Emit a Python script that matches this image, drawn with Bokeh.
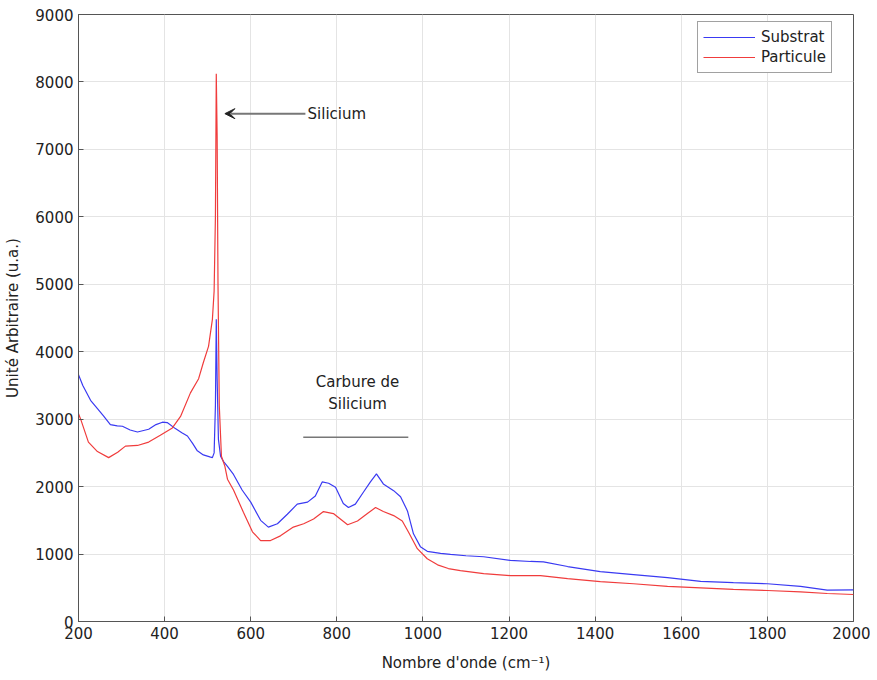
from bokeh.plotting import figure
from bokeh.models import (Range1d, Legend, LegendItem, Arrow, VeeHead, Label, FixedTicker)
from bokeh.embed import file_html
from bokeh.resources import INLINE

# ---- data ----
x_sub = [200, 210, 228, 245, 258, 274, 290, 302, 320, 337, 363, 380, 395, 406, 425, 440,
         453, 465, 476, 490, 505, 511, 515, 518, 520, 522, 525, 530, 537, 546, 560, 580,
         600, 623, 641, 662, 685, 708, 732, 750, 766, 781, 797, 815, 827, 843, 862, 878,
         892, 908, 932, 948, 964, 978, 994, 1010, 1041, 1064, 1100, 1141, 1203, 1250,
         1280, 1336, 1412, 1489, 1568, 1645, 1721, 1800, 1877, 1939, 2000]
y_sub = [3660, 3500, 3280, 3150, 3050, 2920, 2900, 2895, 2840, 2810, 2850, 2920, 2955,
         2950, 2860, 2800, 2750, 2640, 2530, 2470, 2440, 2430, 2500, 3200, 4480, 3600,
         2700, 2450, 2370, 2300, 2180, 1950, 1770, 1500, 1400, 1450, 1590, 1740, 1770,
         1860, 2070, 2050, 1990, 1750, 1690, 1740, 1920, 2070, 2190, 2040, 1940, 1850,
         1640, 1300, 1110, 1040, 1010, 995, 975, 960, 905, 890, 885, 815, 740, 695, 650,
         595, 575, 560, 520, 465, 470]

x_par = [200, 205, 223, 244, 270, 291, 309, 337, 363, 390, 418, 437, 460, 479, 490, 502,
         511, 515, 518, 520, 522, 524, 527, 532, 540, 546, 560, 583, 604, 623, 646, 669,
         699, 723, 746, 769, 792, 825, 848, 871, 890, 908, 932, 952, 966, 987, 1010, 1034,
         1059, 1087, 1141, 1203, 1273, 1336, 1412, 1489, 1568, 1645, 1721, 1800, 1877,
         1939, 2000]
y_par = [3080, 3000, 2660, 2520, 2430, 2510, 2600, 2610, 2660, 2760, 2870, 3040, 3390,
         3600, 3840, 4080, 4480, 4900, 6000, 8120, 7200, 5000, 3200, 2450, 2300, 2110,
         1950, 1620, 1330, 1200, 1200, 1270, 1400, 1450, 1520, 1630, 1600, 1435, 1490,
         1600, 1690, 1630, 1570, 1490, 1330, 1080, 930, 840, 785, 755, 710, 680, 680, 635,
         590, 560, 520, 500, 475, 460, 440, 415, 400]

x_ticks = [200, 400, 600, 800, 1000, 1200, 1400, 1600, 1800, 2000]
y_ticks = [0, 1000, 2000, 3000, 4000, 5000, 6000, 7000, 8000, 9000]

FONT = "DejaVu Sans"
AX = "#555555"
TXT = "#222222"

p = figure(width=870, height=674, output_backend="svg", toolbar_location=None,
           x_range=Range1d(200, 2000), y_range=Range1d(0, 9000),
           min_border_left=78, min_border_right=17, min_border_top=14,
           min_border_bottom=51)
p.background_fill_color = "white"
p.border_fill_color = "white"
p.outline_line_color = AX
p.outline_line_width = 1

for ax in (p.xaxis[0], p.yaxis[0]):
    ax.major_tick_in = 5
    ax.major_tick_out = 0
    ax.minor_tick_in = 0
    ax.minor_tick_out = 0
    ax.axis_line_color = AX
    ax.major_tick_line_color = AX
    ax.major_label_text_font = FONT
    ax.major_label_text_font_size = "15px"
    ax.major_label_text_color = TXT
    ax.axis_label_text_font = FONT
    ax.axis_label_text_font_size = "15px"
    ax.axis_label_text_font_style = "normal"
    ax.axis_label_text_color = TXT

p.xaxis[0].ticker = FixedTicker(ticks=x_ticks)
p.yaxis[0].ticker = FixedTicker(ticks=y_ticks)
p.xaxis[0].axis_label = "Nombre d'onde (cm\u207b\u00b9)"
p.yaxis[0].axis_label = "Unit\u00e9 Arbitraire (u.a.)"
p.xaxis[0].major_label_standoff = 5
p.xaxis[0].axis_label_standoff = 12
p.yaxis[0].major_label_standoff = 5
p.yaxis[0].axis_label_standoff = 10

p.xgrid.ticker = FixedTicker(ticks=x_ticks)
p.ygrid.ticker = FixedTicker(ticks=y_ticks)
p.xgrid.grid_line_color = "#e4e4e4"
p.ygrid.grid_line_color = "#e4e4e4"

r_sub = p.line(x_sub, y_sub, line_color="#3a3af2", line_width=1.2)
r_par = p.line(x_par, y_par, line_color="#f03c3c", line_width=1.2)

legend = Legend(items=[LegendItem(label="Substrat", renderers=[r_sub]),
                       LegendItem(label="Particule", renderers=[r_par])],
                location=(619, 548), glyph_width=52, glyph_height=20,
                label_standoff=6, padding=5, spacing=0, margin=0,
                label_text_font=FONT, label_text_font_size="15px",
                label_text_color=TXT, border_line_color="#444444",
                border_line_width=1, background_fill_alpha=1)
p.add_layout(legend)

# annotations
p.add_layout(Arrow(end=VeeHead(size=10, line_color=TXT, fill_color=TXT),
                   x_start=727, y_start=7530, x_end=540, y_end=7530,
                   line_color="#777777", line_width=2))
p.add_layout(Label(x=732, y=7530, text="Silicium", text_font=FONT,
                   text_font_size="15px", text_color=TXT, text_baseline="middle"))
p.add_layout(Label(x=848, y=3545, text="Carbure de", text_font=FONT,
                   text_font_size="15px", text_color=TXT, text_align="center",
                   text_baseline="middle"))
p.add_layout(Label(x=848, y=3220, text="Silicium", text_font=FONT,
                   text_font_size="15px", text_color=TXT, text_align="center",
                   text_baseline="middle"))
p.segment(x0=[722], y0=[2733], x1=[966], y1=[2733], line_color="#777777", line_width=1.5)

open("out.html", "w").write(file_html(p, INLINE))
